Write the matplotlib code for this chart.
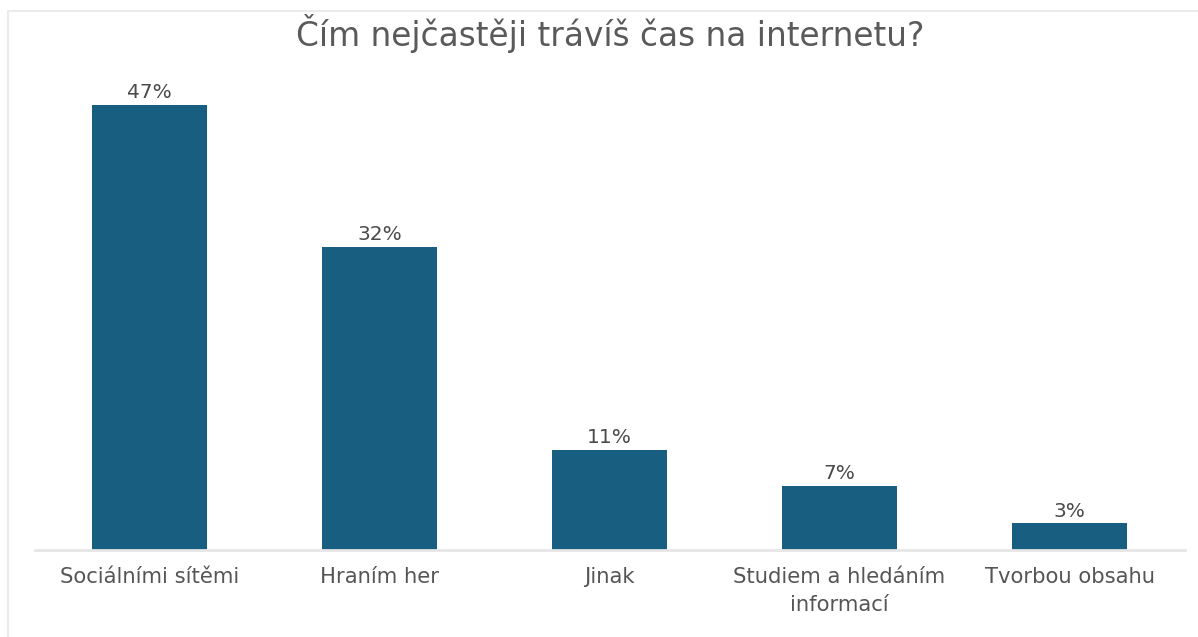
import matplotlib.pyplot as plt
from matplotlib.patches import Rectangle

# Survey data
categories = ['Sociálními sítěmi', 'Hraním her', 'Jinak',
              'Studiem a hledáním\ninformací', 'Tvorbou obsahu']
shares = [47.0, 32.0, 10.6, 6.8, 2.8]

bar_color = '#175e80'
text_color = '#555555'

plt.rcParams['font.family'] = ['DejaVu Sans']

fig = plt.figure(figsize=(11.98, 6.37), dpi=100, facecolor='white')
ax = fig.add_axes([0.0288, 0.1366, 0.960, 0.7433])

# Faint frame at top and left like the source screenshot
fig.add_artist(Rectangle((8 / 1198, -0.1), 1.2, (637 - 11) / 637 + 0.1,
                         transform=fig.transFigure, fill=False,
                         edgecolor='#ebebeb', linewidth=1.5))

x = range(len(categories))
bars = ax.bar(x, shares, width=0.5, color=bar_color)

for bar, v in zip(bars, shares):
    ax.annotate(f"{round(v):d}%", (bar.get_x() + bar.get_width() / 2, v),
                xytext=(0, 2), textcoords='offset points',
                ha='center', va='bottom', fontsize=14.5, color='#4a4a4a')

ax.set_xlim(-0.5, 4.5)
ax.set_ylim(0, 50)
ax.set_xticks(list(x))
ax.set_xticklabels(categories, fontsize=15.2, color=text_color,
                   linespacing=1.5)
ax.tick_params(axis='x', length=0, pad=12)
ax.set_yticks([])

for s in ['top', 'right', 'left']:
    ax.spines[s].set_visible(False)
ax.spines['bottom'].set_color('#e6e6e6')
ax.spines['bottom'].set_linewidth(2)

fig.text(0.509, 1 - 46 / 637, 'Čím nejčastěji trávíš čas na internetu?',
         ha='center', va='baseline', fontsize=23.6, color='#5a5a5a')

fig.savefig('out.png', dpi=100)
